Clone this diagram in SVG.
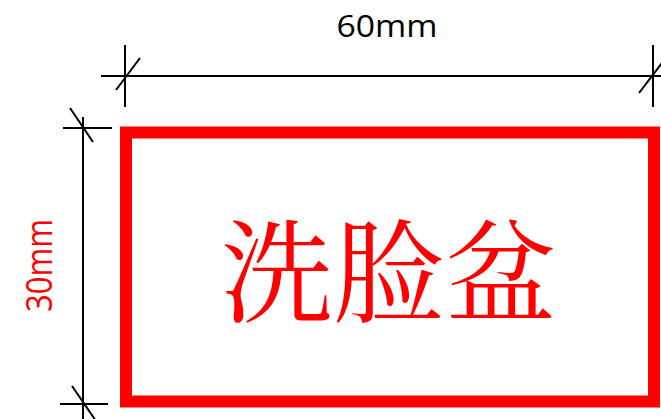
<svg xmlns="http://www.w3.org/2000/svg" width="661" height="419" viewBox="0 0 661 419">
<style>
.dim{stroke:#000;stroke-width:2;fill:none;stroke-linecap:butt}
.box{fill:none;stroke:#ff0000;stroke-width:12}
.lbl{font-family:"Open Sans","Liberation Sans",sans-serif}
</style>
<rect width="661" height="419" fill="#fff"/>
<g id="connectors">
<g id="dim-top">
<line class="dim" x1="101" y1="76" x2="661" y2="76"/>
<line class="dim" x1="125" y1="45" x2="125" y2="107"/>
<line class="dim" x1="116" y1="90" x2="140" y2="58"/>
<line class="dim" x1="653" y1="45" x2="653" y2="107"/>
<line class="dim" x1="639" y1="93" x2="665" y2="59"/>
</g>
<g id="dim-left">
<line class="dim" x1="83" y1="117" x2="83" y2="419"/>
<line class="dim" x1="63" y1="128" x2="112" y2="128"/>
<line class="dim" x1="70" y1="108" x2="93" y2="142"/>
<line class="dim" x1="60" y1="404" x2="108" y2="404"/>
<line class="dim" x1="72" y1="386" x2="96" y2="421"/>
</g>
</g>
<g id="label-60mm">
<text class="lbl" x="387" y="37" font-size="31" text-anchor="middle" fill="#000" textLength="101" lengthAdjust="spacingAndGlyphs">60mm</text>
</g>
<g id="label-30mm">
<text class="lbl" transform="translate(52 265.5) rotate(-90)" x="0" y="0" font-size="36" text-anchor="middle" fill="#ff0000" textLength="93" lengthAdjust="spacingAndGlyphs">30mm</text>
</g>
<g id="node-basin">
<rect class="box" x="126" y="132.5" width="528" height="269"/>
<text x="389" y="314" font-size="112" text-anchor="middle" fill="#ff0000" font-family="'Noto Serif CJK SC','Noto Sans CJK SC',serif">洗脸盆</text>
</g>
</svg>
